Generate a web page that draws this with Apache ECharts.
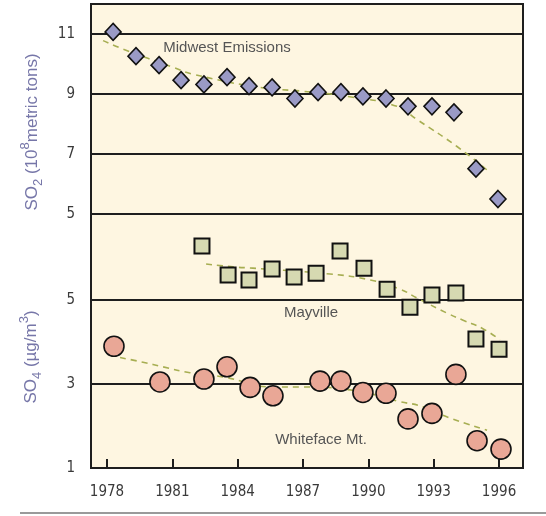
<!DOCTYPE html>
<html><head><meta charset="utf-8">
<script src="https://cdn.jsdelivr.net/npm/echarts@6/dist/echarts.min.js"></script>
<style>html,body{margin:0;padding:0;background:#fff}#c{width:546px;height:516px}</style>
</head><body><div id="c"></div>
<script>
// ---- data ----
const xTickYears = [1978, 1981, 1984, 1987, 1990, 1993, 1996];
const so2Ticks = [5, 7, 9, 11];
const so4Ticks = [1, 3, 5];

const midwestYears = [1978.28,1979.33,1980.39,1981.40,1982.45,1983.51,1984.52,1985.58,1986.63,1987.69,1988.74,1989.75,1990.81,1991.82,1992.92,1993.93,1994.94,1995.95];
const midwestSO2 = [11.07,10.26,9.96,9.46,9.32,9.56,9.26,9.22,8.85,9.06,9.06,8.92,8.85,8.59,8.59,8.39,6.51,5.50];

const mayvilleYears = [1982.36,1983.56,1984.52,1985.58,1986.59,1987.60,1988.70,1989.80,1990.86,1991.91,1992.92,1994.02,1994.94,1996.00];
const mayvilleSO4 = [6.29,5.60,5.48,5.74,5.55,5.64,6.17,5.76,5.26,4.83,5.12,5.17,4.07,3.83];

const whitefaceYears = [1978.32,1980.43,1982.45,1983.51,1984.57,1985.62,1987.78,1988.74,1989.75,1990.81,1991.82,1992.92,1994.02,1994.99,1996.09];
const whitefaceSO4 = [3.90,3.05,3.12,3.41,2.92,2.72,3.07,3.07,2.80,2.78,2.17,2.30,3.23,1.65,1.45];

const midwestTrendYears = [1977.82,1978.73,1981.03,1981.95,1985.02,1987.0,1989.29,1991.31,1992.23,1994.07,1995.54];
const midwestTrend = [10.78,10.50,9.89,9.66,9.22,9.09,8.89,8.59,8.15,7.25,6.41];
const mayvilleTrendYears = [1982.55,1983.79,1984.70,1988.24,1990.08,1991.45,1992.23,1993.61,1994.35,1995.22,1996.04];
const mayvilleTrend = [5.86,5.79,5.76,5.62,5.48,5.26,5.05,4.69,4.52,4.33,4.05];
const whitefaceTrendYears = [1978.60,1979.65,1980.57,1981.81,1983.33,1985.62,1987.0,1989.16,1991.45,1992.51,1993.75,1995.45];
const whitefaceTrend = [3.63,3.52,3.41,3.27,3.17,2.93,2.93,2.86,2.58,2.46,2.19,1.90];

const zip = (a, b) => a.map((v, i) => [v, b[i]]);

const chart = echarts.init(document.getElementById('c'), null, {renderer: 'canvas'});
const tickFont = '"DejaVu Sans Condensed", "Liberation Sans", sans-serif';
const xMin = 1977.265, xMax = 1997.10;
const trendStyle = {color: '#a7ae52', width: 1.6, type: [6, 5]};
const titleColor = '#7676a8';
const titleRich = {
  b: {fontSize: 17, fontFamily: '"Liberation Sans", sans-serif', fill: titleColor, lineHeight: 26, verticalAlign: 'middle'},
  s: {fontSize: 13, fontFamily: '"Liberation Sans", sans-serif', fill: titleColor, lineHeight: 26, verticalAlign: 'bottom'},
  p: {fontSize: 13, fontFamily: '"Liberation Sans", sans-serif', fill: titleColor, lineHeight: 26, verticalAlign: 'top'}
};

chart.setOption({
  animation: false,
  backgroundColor: '#ffffff',
  grid: [
    {left: 91, top: 4, width: 432, height: 210, show: true, backgroundColor: '#fef6e1', borderColor: '#1e1e1e', borderWidth: 2},
    {left: 91, top: 214, width: 432, height: 254, show: true, backgroundColor: '#fef6e1', borderColor: '#1e1e1e', borderWidth: 2}
  ],
  xAxis: [
    {type: 'value', gridIndex: 0, min: xMin, max: xMax, show: false},
    {type: 'value', gridIndex: 1, min: xMin, max: xMax,
     axisLine: {show: false}, splitLine: {show: false},
     axisTick: {show: true, inside: true, length: 9, customValues: xTickYears, lineStyle: {color: '#1e1e1e', width: 2}},
     axisLabel: {customValues: xTickYears, margin: 17, color: '#3a3a3a', fontSize: 15, fontFamily: tickFont, formatter: v => String(Math.round(v))}}
  ],
  yAxis: [
    {type: 'value', gridIndex: 0, min: 5, max: 12,
     axisLine: {show: false},
     axisTick: {show: false, customValues: [7, 9, 11]},
     splitLine: {show: true, lineStyle: {color: '#1e1e1e', width: 2}},
     axisLabel: {customValues: so2Ticks, margin: 16, color: '#3a3a3a', fontSize: 15, fontFamily: tickFont}},
    {type: 'value', gridIndex: 1, min: 1, max: 7.05,
     axisLine: {show: false},
     axisTick: {show: false, customValues: [3, 5]},
     splitLine: {show: true, lineStyle: {color: '#1e1e1e', width: 2}},
     axisLabel: {customValues: so4Ticks, margin: 16, color: '#3a3a3a', fontSize: 15, fontFamily: tickFont}}
  ],
  series: [
    {type: 'line', xAxisIndex: 0, yAxisIndex: 0, data: zip(midwestTrendYears, midwestTrend), smooth: true, symbol: 'none', lineStyle: trendStyle, silent: true, z: 2},
    {type: 'line', xAxisIndex: 1, yAxisIndex: 1, data: zip(mayvilleTrendYears, mayvilleTrend), smooth: true, symbol: 'none', lineStyle: trendStyle, silent: true, z: 2},
    {type: 'line', xAxisIndex: 1, yAxisIndex: 1, data: zip(whitefaceTrendYears, whitefaceTrend), smooth: true, symbol: 'none', lineStyle: trendStyle, silent: true, z: 2},
    {type: 'scatter', name: 'Midwest Emissions', xAxisIndex: 0, yAxisIndex: 0, data: zip(midwestYears, midwestSO2),
     symbol: 'diamond', symbolSize: [16, 17], itemStyle: {color: '#9a9ac6', borderColor: '#111', borderWidth: 1.6, opacity: 1}, z: 5},
    {type: 'scatter', name: 'Mayville', xAxisIndex: 1, yAxisIndex: 1, data: zip(mayvilleYears, mayvilleSO4),
     symbol: 'rect', symbolSize: 15, itemStyle: {color: '#d6d9b1', borderColor: '#111', borderWidth: 2, opacity: 1}, z: 5},
    {type: 'scatter', name: 'Whiteface Mt.', xAxisIndex: 1, yAxisIndex: 1, data: zip(whitefaceYears, whitefaceSO4),
     symbol: 'circle', symbolSize: 20, itemStyle: {color: '#e9a796', borderColor: '#111', borderWidth: 1.6, opacity: 1}, z: 5}
  ],
  graphic: [
    {type: 'text', x: 227, y: 48, z: 10, style: {text: 'Midwest Emissions', fill: '#555', font: '15px "Liberation Sans", sans-serif', align: 'center', verticalAlign: 'middle'}},
    {type: 'text', x: 311, y: 313, z: 10, style: {text: 'Mayville', fill: '#555', font: '15px "Liberation Sans", sans-serif', align: 'center', verticalAlign: 'middle'}},
    {type: 'text', x: 321, y: 440, z: 10, style: {text: 'Whiteface Mt.', fill: '#555', font: '15px "Liberation Sans", sans-serif', align: 'center', verticalAlign: 'middle'}},
    {type: 'text', x: 32, y: 132, rotation: Math.PI / 2, z: 10, style: {text: '{b|SO}{s|2}{b| (10}{p|8}{b|metric tons)}', rich: titleRich, align: 'center', verticalAlign: 'middle'}},
    {type: 'text', x: 31, y: 357, rotation: Math.PI / 2, z: 10, style: {text: '{b|SO}{s|4}{b| (\u00b5g/m}{p|3}{b|)}', rich: titleRich, align: 'center', verticalAlign: 'middle'}},
    {type: 'line', z: 10, shape: {x1: 20, y1: 513, x2: 546, y2: 513}, style: {stroke: '#9a9a9a', lineWidth: 2}}
  ]
});
</script></body></html>
